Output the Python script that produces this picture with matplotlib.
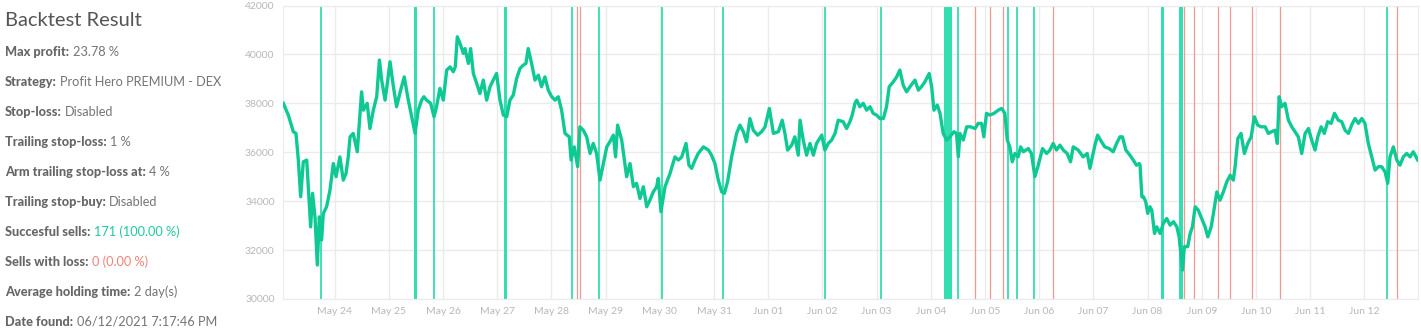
import pandas as pd
import matplotlib
matplotlib.use("Agg")
import matplotlib.pyplot as plt
import matplotlib.dates as mdates

plt.rcParams['font.family'] = ['Lato', 'DejaVu Sans']

inicio = pd.Timestamp("2021-05-23 00:00")

# Precio: horas desde el 23 de mayo 00:00 y valor
horas = [1.25, 3.46, 5.67, 6.85, 7.89, 8.92, 10.1, 11.6, 12.3, 13.35,
         14.2, 15.27, 16.3, 17.2, 18.2, 18.96, 20.4, 21.9, 23.4, 24.6,
         26.3, 27.8, 29.0, 30.0, 30.8, 32.2, 34.0, 35.9, 36.7, 38.4,
         39.6, 41.1, 42.6, 43.8, 44.8, 46.3, 47.3, 48.5, 50.0, 51.4,
         53.2, 54.8, 56.6, 58.1, 59.6, 61.0, 62.5, 63.5, 64.7, 66.5,
         68.0, 69.1, 70.6, 72.1, 73.6, 75.1, 76.5, 77.4, 78.3, 79.5,
         81.0, 81.7, 83.2, 84.2, 85.4, 86.9, 88.3, 89.8, 91.3, 92.8,
         94.2, 95.7, 97.2, 98.7, 100.2, 101.6, 103.1, 104.6, 106.1, 107.5,
         108.7, 109.7, 111.2, 112.7, 114.2, 115.6, 117.1, 118.6, 120.1, 121.6,
         123.0, 124.5, 126.0, 127.9,
         128.7, 130.1, 131.6, 132.6, 134.1, 135.6, 137.1, 138.5, 140.0, 141.5,
         143.0, 144.5, 145.9, 147.4, 148.4, 149.3, 151.1, 153.3, 154.8, 156.3,
         157.7, 159.2, 160.7, 162.2, 163.6, 165.1, 166.6, 167.3, 168.5, 170.3,
         172.5, 174.7, 176.2, 177.7, 179.6, 180.9, 182.1, 183.6, 185.0, 187.3,
         189.5, 190.9, 192.4, 193.9, 195.4, 196.6, 198.0, 199.8, 202.0, 203.5,
         205.0, 206.4, 207.9, 209.4, 211.3, 213.1, 214.6, 216.5, 218.3, 220.5,
         222.2, 223.4, 224.6, 226.4, 227.8, 229.3, 230.1, 231.5, 233.0, 234.5,
         236.0, 237.4, 239.7, 241.1, 242.6, 244.1, 245.6, 247.0, 249.2, 250.7,
         252.2, 253.2, 254.1,
         254.4, 255.2, 256.6, 258.1, 259.6, 261.1, 262.5, 264.0, 265.5, 267.0,
         268.4, 269.6, 271.4, 272.9, 274.3, 275.8, 277.3, 278.8, 281.0, 282.5,
         283.9, 285.4, 287.3, 288.4, 289.4, 290.9, 292.1, 293.5, 295.0, 296.5,
         298.3, 299.4, 300.2, 300.9, 302.4, 303.9, 305.6, 307.6, 309.0, 310.5,
         311.5, 312.7, 314.2, 316.0, 317.9, 319.4, 320.8, 321.9, 323.0, 324.1,
         325.3, 326.7, 327.8, 329.0, 331.2, 332.6, 334.1, 335.6, 337.5, 339.3,
         340.8, 342.2, 343.7, 345.2, 346.7, 348.4, 349.9, 351.1, 353.3, 355.5,
         357.3, 358.5, 359.6, 360.7, 361.9, 363.6, 365.1, 367.0, 368.8, 370.3,
         371.8, 372.9, 374.4, 376.2, 377.7, 379.1, 380.3,
         380.7, 381.5, 382.2, 383.2, 384.1, 385.1, 385.9, 387.1, 388.1, 389.6,
         391.0, 392.5, 394.0, 395.5, 397.0, 398.0, 398.9, 399.5, 400.3, 401.8,
         402.9, 403.9, 405.1, 406.5, 408.0, 409.5, 410.7, 412.2, 413.2, 414.7,
         416.1, 417.6, 419.1, 420.6, 422.0, 422.8, 424.0, 425.4, 426.9, 428.4,
         429.9, 431.3, 432.8, 434.3, 436.1, 437.5, 439.0, 440.5, 441.5, 442.3,
         443.4, 444.9, 446.4, 447.9, 449.3, 450.8, 452.3, 453.8, 455.3, 456.7,
         458.2, 459.4, 460.9, 462.3, 463.8, 465.3, 466.8, 468.5, 470.0, 471.5,
         473.0, 474.4, 475.9, 477.4, 478.9, 480.3, 481.8, 483.3, 484.8, 486.3,
         487.7, 489.2, 490.4, 491.4, 492.9, 494.4, 495.8, 497.3, 498.8, 500.3,
         501.7, 503.7]

precio = [38000, 37520, 36840, 36770, 35680, 34180, 35610, 35680, 34590, 32950,
          34320, 33360, 31390, 33360, 32410, 33500, 33770, 34450, 35540, 35000,
          35810, 34860, 35130, 35810, 36630, 36770, 36020, 38470, 37720, 38000,
          36970, 37720, 38270, 39770, 38950, 38130, 38810, 39700, 38680, 37860,
          38540, 39080, 38130, 37450, 36770, 37720, 38130, 38270, 38130, 38000,
          37450, 37860, 38610, 38130, 39360, 39490, 39290, 39490, 40720, 40450,
          40040, 40240, 39630, 40240, 39220, 38810, 38400, 38950, 38130, 38680,
          38950, 39220, 38130, 37520, 37450, 38130, 38340, 39020, 39430, 39560,
          39630, 40240, 39630, 38950, 39150, 38680, 39080, 38540, 38270, 38130,
          38270, 37720, 36770, 36630,
          35680, 36220, 35410, 37040, 36900, 36630, 35950, 36360, 35950, 34860,
          35540, 36220, 36430, 36700, 35810, 37110, 36500, 35000, 35540, 34590,
          34730, 34110, 34590, 33770, 34040, 34380, 34590, 34930, 33570, 34590,
          35130, 35810, 35680, 35810, 36360, 35470, 35340, 35680, 35950, 36220,
          36090, 35880, 35540, 34860, 34380, 34320, 34790, 35810, 36770, 37110,
          36840, 36430, 37380, 36900, 36700, 36840, 37040, 37790, 36770, 36840,
          37310, 36770, 36090, 36290, 36630, 35880, 37310, 36500, 35880, 36360,
          35880, 36360, 36700, 36090, 36360, 36500, 36770, 37310, 37250, 36970,
          37250, 37520, 37860,
          38000, 38130, 37860, 38000, 37720, 37860, 37590, 37520, 37380, 37380,
          37860, 38680, 38880, 39080, 39360, 38740, 38470, 38680, 38950, 38540,
          38680, 38880, 39220, 38680, 37720, 37930, 37590, 36770, 36500, 36630,
          36840, 36770, 35810, 36770, 36500, 37040, 37040, 36970, 37180, 37180,
          36630, 37590, 37520, 37590, 37720, 37790, 37590, 36500, 36220, 35610,
          35950, 35810, 36220, 36020, 36150, 35950, 35000, 35470, 36150, 35950,
          36090, 36360, 36090, 36290, 36090, 35950, 35610, 36220, 36090, 35810,
          35950, 35340, 35810, 36290, 36700, 36430, 36220, 36150, 36020, 36360,
          36630, 36630, 36090, 35880, 35680, 35470, 35540,
          35470, 34180, 34180, 33980, 33500, 33770, 33630, 32680, 32950, 32680,
          33090, 33290, 33020, 33160, 32950, 32540, 31730, 31180, 32140, 32140,
          32680, 32950, 33770, 33630, 33290, 32950, 32540, 32950, 33500, 34380,
          34040, 34380, 34790, 35060, 34860, 35410, 36560, 36770, 35950, 36360,
          36630, 37450, 37110, 37040, 37040, 36770, 36840, 36900, 36360, 38270,
          37860, 38000, 37310, 37040, 36840, 36630, 35950, 36770, 36970, 36500,
          36090, 36630, 37040, 36770, 37250, 37180, 37590, 37310, 37250, 36900,
          36770, 37110, 37380, 37180, 37380, 37180, 36360, 35810, 35270, 35410,
          35410, 35200, 34730, 35810, 36220, 35680, 35470, 35810, 35950, 35810,
          36020, 35680]

# Operaciones (horas desde el 23 de mayo)
horas_verde = [17.9, 68.1, 129.0, 141.2, 169.1, 196.1, 241.3, 266.1,
               300.1, 322.3, 326.1, 333.7, 490.2]
bandas_verde = [(59.1, 60.5), (99.0, 100.3), (293.9, 297.5),
                (390.0, 391.3), (397.9, 399.8)]
horas_rojo = [131.4, 132.5, 307.7, 314.4, 320.1, 342.3, 400.3, 404.6,
              415.4, 420.7, 430.4, 442.8, 494.3]

# Panel de texto
etiquetas = ["Max profit:", "Strategy:", "Stop-loss:", "Trailing stop-loss:",
             "Arm trailing stop-loss at:", "Trailing stop-buy:",
             "Succesful sells:", "Sells with loss:", "Average holding time:",
             "Date found:"]
valores = ["23.78 %", "Profit Hero PREMIUM - DEX", "Disabled", "1 %", "4 %",
           "Disabled", "171 (100.00 %)", "0 (0.00 %)", "2 day(s)",
           "06/12/2021 7:17:46 PM"]
colores_valor = ["#757575"] * 6 + ["#1ec9a0", "#f2827a", "#757575", "#757575"]

fig = plt.figure(figsize=(14.21, 3.36), dpi=100)
ax = fig.add_axes([283 / 1421, 1 - 299 / 336, 1135 / 1421, 293.5 / 336])

def t(h):
    return inicio + pd.Timedelta(hours=h)

tiempo = [t(h) for h in horas]

for a, b in bandas_verde:
    ax.axvspan(t(a), t(b), color="#33deb0", lw=0, zorder=2)
for h in horas_verde:
    ax.axvline(t(h), color="#33deb0", lw=1.3, zorder=2)
for h in horas_rojo:
    ax.axvline(t(h), color="#f09a90", lw=0.9, zorder=2)

ax.plot(tiempo, precio, color="#0fc994", lw=2.4, zorder=3)

ax.set_ylim(30000, 42000)
ax.set_yticks(range(30000, 42001, 2000))
ax.set_xlim(t(1.1), t(503.8))
ax.xaxis.set_major_locator(mdates.DayLocator())
ax.xaxis.set_major_formatter(mdates.DateFormatter("%b %d"))
ax.grid(color="#ebebeb", lw=1, zorder=0)
ax.set_axisbelow(True)
ax.tick_params(length=0, colors="#b8b8b8", labelsize=7.5, pad=6)
for s in ax.spines.values():
    s.set_color("#ebebeb")

fig.text(5 / 1421, 1 - 20 / 336, "Backtest Result", fontsize=14.5,
         color="#555555", va="center")
for i, (e, v, c) in enumerate(zip(etiquetas, valores, colores_valor)):
    y = 1 - (52 + 30 * i) / 336
    txt = fig.text(5 / 1421, y, e, fontsize=9.2, fontweight="black",
                   color="#666666", va="center")
    ax.annotate(v, xy=(1, 0), xycoords=txt, xytext=(2.5, 0),
                textcoords="offset points", va="bottom", ha="left",
                fontsize=9.2, color=c, annotation_clip=False)

plt.savefig("out.png", dpi=100)
